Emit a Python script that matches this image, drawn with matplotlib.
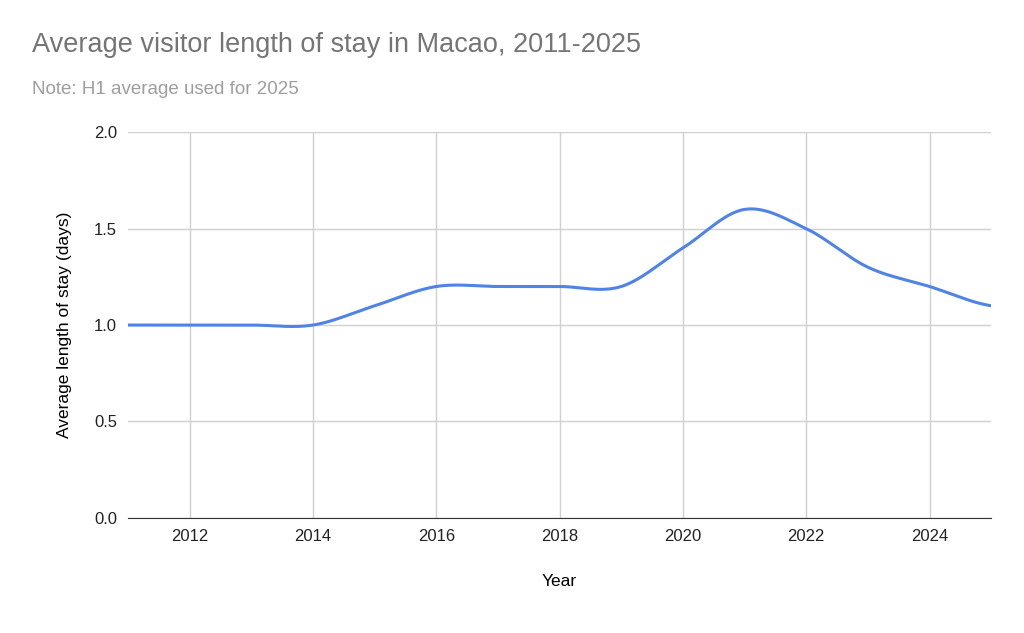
import matplotlib
matplotlib.use("Agg")
import matplotlib.pyplot as plt
import numpy as np

years = [2011, 2012, 2013, 2014, 2015, 2016, 2017, 2018, 2019, 2020, 2021, 2022, 2023, 2024, 2025]
stay_days = [1.0, 1.0, 1.0, 1.0, 1.1, 1.2, 1.2, 1.2, 1.2, 1.4, 1.6, 1.5, 1.3, 1.2, 1.1]
x_ticks = [2012, 2014, 2016, 2018, 2020, 2022, 2024]
y_ticks = [0.0, 0.5, 1.0, 1.5, 2.0]

plt.rcParams["font.family"] = ["Liberation Sans", "DejaVu Sans"]


def smooth(xs, ys, steps=30):
    # Catmull-Rom curve through the data points, like the spreadsheet's smooth line
    xs = np.asarray(xs, float)
    ys = np.asarray(ys, float)
    px = np.concatenate([[2 * xs[0] - xs[1]], xs, [2 * xs[-1] - xs[-2]]])
    py = np.concatenate([[ys[0]], ys, [ys[-1]]])
    out_x, out_y = [], []
    t = np.linspace(0, 1, steps, endpoint=False)
    for i in range(1, len(px) - 2):
        for p, out in ((px, out_x), (py, out_y)):
            p0, p1, p2, p3 = p[i - 1], p[i], p[i + 1], p[i + 2]
            out.extend(0.5 * (2 * p1 + (-p0 + p2) * t + (2 * p0 - 5 * p1 + 4 * p2 - p3) * t ** 2
                              + (-p0 + 3 * p1 - 3 * p2 + p3) * t ** 3))
    out_x.append(xs[-1])
    out_y.append(ys[-1])
    return out_x, out_y


fig = plt.figure(figsize=(10.24, 6.33), dpi=100)
ax = fig.add_axes([0.125, 0.182, 0.843, 0.609])

sx, sy = smooth(years, stay_days)
ax.plot(sx, sy, color="#4f83e8", linewidth=2.2)

ax.set_xlim(2011, 2025)
ax.set_ylim(0, 2.0)
ax.set_xticks(x_ticks)
ax.set_yticks(y_ticks)
ax.set_yticklabels([f"{v:.1f}" for v in y_ticks])
ax.grid(True, color="#d0d0d0", linewidth=1)
ax.set_axisbelow(True)
for side in ("top", "right", "left"):
    ax.spines[side].set_visible(False)
ax.spines["bottom"].set_color("#333333")
ax.tick_params(length=0, labelsize=12, colors="#222222", pad=8)
ax.set_xlabel("Year", fontsize=12.5, labelpad=22)
ax.set_ylabel("Average length of stay (days)", fontsize=12.5, labelpad=16)

fig.text(0.031, 0.918, "Average visitor length of stay in Macao, 2011-2025",
         fontsize=19.5, color="#757575", va="baseline")
fig.text(0.031, 0.852, "Note: H1 average used for 2025", fontsize=13.5, color="#9e9e9e", va="baseline")

fig.savefig("out.png", dpi=100)
